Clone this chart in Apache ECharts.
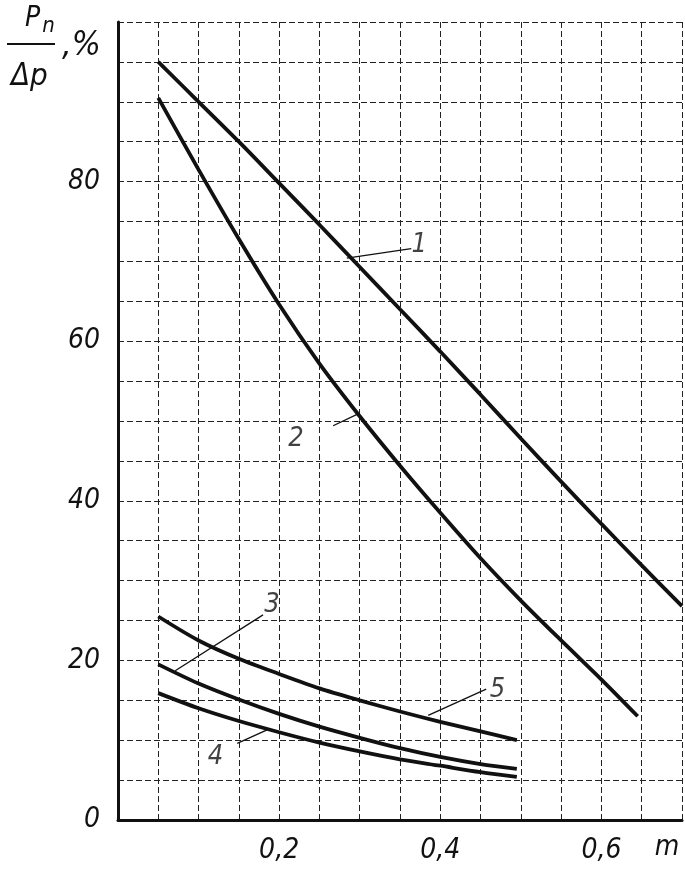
<!DOCTYPE html>
<html>
<head>
<meta charset="utf-8">
<script src="https://cdn.jsdelivr.net/npm/echarts@6/dist/echarts.min.js"></script>
<style>
html,body{margin:0;padding:0;background:#fff;}
#chart{width:685px;height:878px;}
</style>
</head>
<body>
<div id="chart"></div>
<script>
// ---- data ----
const xCurve1 = [0.05, 0.1, 0.15, 0.2, 0.25, 0.3, 0.35, 0.4, 0.45, 0.5, 0.55, 0.6, 0.65, 0.7];
const yCurve1 = [95, 90, 85, 79.8, 74.6, 69.3, 64, 58.7, 53.3, 47.8, 42.4, 37.1, 31.9, 26.8];

const xCurve2 = [0.05, 0.1, 0.15, 0.2, 0.25, 0.3, 0.35, 0.4, 0.45, 0.5, 0.55, 0.6, 0.645];
const yCurve2 = [90.5, 81.5, 72.8, 64.6, 57.2, 50.6, 44.4, 38.5, 32.8, 27.5, 22.5, 17.6, 13];

const xSmall = [0.05, 0.1, 0.15, 0.2, 0.25, 0.3, 0.35, 0.4, 0.45, 0.495];
const yCurve3 = [19.5, 17.1, 15.1, 13.3, 11.7, 10.3, 9.0, 7.9, 7.0, 6.4];
const yCurve4 = [15.9, 14.0, 12.4, 11.0, 9.7, 8.6, 7.6, 6.8, 6.0, 5.4];
const yCurve5 = [25.5, 22.5, 20.2, 18.3, 16.5, 15.0, 13.6, 12.3, 11.1, 10.0];

const xTickValues = [0.2, 0.4, 0.6];
const xTickLabels = ['0,2', '0,4', '0,6'];
const yTickValues = [0, 20, 40, 60, 80];
const yTickLabels = ['0', '20', '40', '60', '80'];

const curveNames = ['1', '2', '3', '4', '5'];
// label anchor [x, y] and leader line [[x1,y1],[x2,y2]] in data units
const labelPos = [[0.374, 72], [0.221, 47.7], [0.191, 26.9], [0.121, 7.9], [0.471, 16.3]];
const leaders = [
  [[0.284, 70.4], [0.364, 71.6]],
  [[0.267, 49.4], [0.298, 50.9]],
  [[0.071, 18.7], [0.18, 25.7]],
  [[0.148, 9.6], [0.185, 11.3]],
  [[0.385, 13.1], [0.457, 16.4]]
];

// ---- chart ----
const FONT = "'Liberation Sans Narrow', 'DejaVu Sans Condensed', sans-serif";
const zip = (xs, ys) => xs.map((x, i) => [x, ys[i]]);
const near = (v, arr) => arr.findIndex(t => Math.abs(t - v) < 1e-6);

const curveData = [
  zip(xCurve1, yCurve1),
  zip(xCurve2, yCurve2),
  zip(xSmall, yCurve3),
  zip(xSmall, yCurve4),
  zip(xSmall, yCurve5)
];

const chart = echarts.init(document.getElementById('chart'), null, {renderer: 'canvas'});

const series = curveData.map((d, i) => ({
  name: curveNames[i],
  type: 'line',
  data: d,
  smooth: 0.3,
  showSymbol: false,
  symbol: 'none',
  lineStyle: {color: '#111', width: 3.8},
  z: 5
}));

series.push({
  name: 'leaders',
  type: 'lines',
  coordinateSystem: 'cartesian2d',
  data: leaders.map(c => ({coords: c})),
  lineStyle: {color: '#111', width: 1.3, opacity: 1},
  z: 4
});

series.push({
  name: 'labels',
  type: 'scatter',
  data: labelPos.map((p, i) => ({value: p, name: curveNames[i]})),
  symbolSize: 0,
  label: {
    show: true,
    position: 'inside',
    formatter: p => p.name,
    color: '#111',
    fontFamily: FONT,
    fontStyle: 'italic',
    fontSize: 27
  },
  z: 6
});

chart.setOption({
  animation: false,
  backgroundColor: '#fff',
  title: [
    {text: '{p|P}{n|n}', left: 20, top: -4,
      textStyle: {fontWeight: 'normal', rich: {
        p: {fontFamily: FONT, fontStyle: 'italic', fontWeight: 'normal', fontSize: 28, color: '#111'},
        n: {fontFamily: FONT, fontStyle: 'italic', fontWeight: 'normal', fontSize: 22, color: '#111', padding: [14, 0, 0, 2]}
      }}},
    {text: 'Δp', left: 6, top: 56,
      textStyle: {fontFamily: FONT, fontStyle: 'italic', fontWeight: 'normal', fontSize: 31, color: '#111'}},
    {text: ',%', left: 57, top: 24,
      textStyle: {fontFamily: FONT, fontStyle: 'italic', fontWeight: 'normal', fontSize: 34, color: '#111'}}
  ],
  graphic: [
    {type: 'line', shape: {x1: 7, y1: 44, x2: 55, y2: 44}, style: {stroke: '#111', lineWidth: 2}}
  ],
  grid: {left: 118, right: 2, top: 22, bottom: 58, containLabel: false},
  xAxis: {
    type: 'value',
    min: 0, max: 0.7, interval: 0.05,
    name: 'm',
    nameLocation: 'end',
    nameGap: -15,
    nameTextStyle: {fontFamily: FONT, fontStyle: 'italic', fontSize: 28, color: '#111',
      align: 'center', verticalAlign: 'top', padding: [14, 0, 0, 0]},
    axisLine: {show: true, onZero: false, lineStyle: {color: '#111', width: 3}},
    axisTick: {show: false},
    axisLabel: {
      show: true, margin: 17,
      fontFamily: FONT, fontStyle: 'italic', fontSize: 28, color: '#111',
      showMinLabel: true, showMaxLabel: true,
      formatter: v => { const k = near(v, xTickValues); return k >= 0 ? xTickLabels[k] : ''; }
    },
    splitLine: {show: true, lineStyle: {color: '#222', width: 1, type: [6, 3]}}
  },
  yAxis: {
    type: 'value',
    min: 0, max: 100, interval: 5,
    axisLine: {show: true, onZero: false, lineStyle: {color: '#111', width: 3}},
    axisTick: {show: false},
    axisLabel: {
      show: true, margin: 18,
      fontFamily: FONT, fontStyle: 'italic', fontSize: 28, color: '#111',
      showMinLabel: true, showMaxLabel: true,
      formatter: v => { const k = near(v, yTickValues); return k >= 0 ? yTickLabels[k] : ''; }
    },
    splitLine: {show: true, lineStyle: {color: '#222', width: 1, type: [6, 3]}}
  },
  series: series
});
</script>
</body>
</html>
